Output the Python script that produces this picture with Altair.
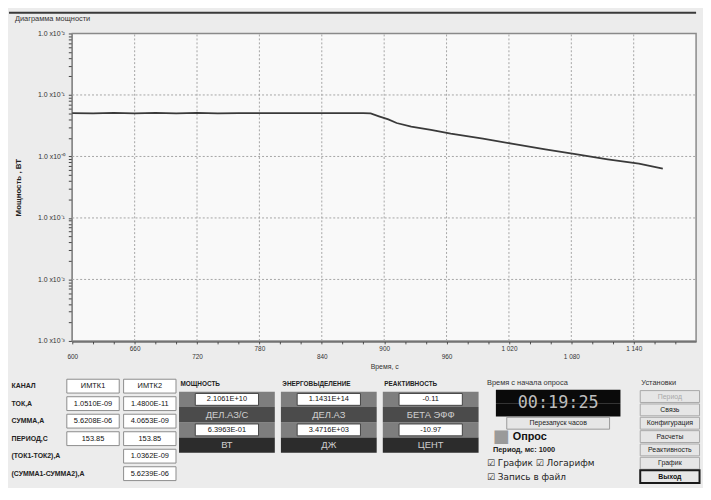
import altair as alt
import pandas as pd

# ---------------- data ----------------
time_s = [600, 620, 640, 660, 680, 700, 720, 740, 760, 800, 840, 880, 887, 895,
          904, 912, 926, 945, 964, 995, 1024, 1055, 1084, 1115, 1145, 1168]
power_w = [5.05, 5.0, 5.1, 5.0, 5.1, 5.0, 5.1, 5.0, 5.05, 5.05, 5.05, 5.05, 5.0, 4.5,
           4.0, 3.5, 3.05, 2.7, 2.35, 1.95, 1.6, 1.3, 1.09, 0.9, 0.765, 0.635]

x_domain = [600, 1200]
y_domain = [0.001, 100]
x_grid = [600, 660, 720, 780, 840, 900, 960, 1020, 1080, 1140, 1200]
x_minor_ticks = list(range(600, 1200, 20))
x_lower_labels = [600, 720, 840, 960, 1080]
y_decades = [0.001, 0.01, 0.1, 1, 10, 100]
y_exponents = [-3, -2, -1, 0, 1, 2]
y_labels = ['1.0 x10⁻³', '1.0 x10⁻²', '1.0 x10⁻¹', '1.0 x10⁺⁰', '1.0 x10⁺¹', '1.0 x10⁺²']
y_minor_mult = [2, 3, 4, 5, 6, 7, 8, 9]

chart_title = 'Диаграмма мощности'

chan_rows = ['КАНАЛ', 'ТОК,А', 'СУММА,А', 'ПЕРИОД,С', '(ТОК1-ТОК2),А', '(СУММА1-СУММА2),А']
chan_imtk1 = ['ИМТК1', '1.0510E-09', '5.6208E-06', '153.85', '', '']
chan_imtk2 = ['ИМТК2', '1.4800E-11', '4.0653E-09', '153.85', '1.0362E-09', '5.6239E-06']

read_groups = ['МОЩНОСТЬ', 'ЭНЕРГОВЫДЕЛЕНИЕ', 'РЕАКТИВНОСТЬ']
read_top_values = ['2.1061E+10', '1.1431E+14', '-0.11']
read_top_units = ['ДЕЛ.АЗ/С', 'ДЕЛ.АЗ', 'БЕТА ЭФФ']
read_bottom_values = ['6.3963E-01', '3.4716E+03', '-10.97']
read_bottom_units = ['ВТ', 'ДЖ', 'ЦЕНТ']

clock_title = 'Время с начала опроса'
clock_text = '00:19:25'
restart_text = 'Перезапуск часов'
poll_text = 'Опрос'
period_text = 'Период, мс:  1000'
graph_text = '☑ График ☑ Логарифм'
file_text = '☑ Запись в файл'

settings_title = 'Установки'
settings_buttons = ['Период', 'Связь', 'Конфигурация', 'Расчеты', 'Реактивность', 'График', 'Выход']

FONT = 'Liberation Sans'
TOTAL_W = 695
LEFT = 64
PLOT_H = 311
PANEL_H = 108
BG = '#ececec'

one = alt.X('c:N', scale=alt.Scale(type='band', domain=['a'], paddingInner=0, paddingOuter=0), axis=None)

# ---------------- header: window line + group title ----------------
hdr_rows = ['line', 'title']
hdr_df = pd.DataFrame({'c': ['a', 'a'], 'row': hdr_rows, 'text': ['', chart_title]})
hdr_y = alt.Y('row:N', scale=alt.Scale(type='band', domain=hdr_rows, paddingInner=0, paddingOuter=0),
              axis=None)
header = alt.layer(
    alt.Chart(hdr_df).transform_filter("datum.row == 'line'").mark_rect(fill='#3a3a3a').encode(
        x=one, y=hdr_y),
    alt.Chart(hdr_df).transform_filter("datum.row == 'title'").mark_text(
        align='left', baseline='top', dx=-(TOTAL_W / 2) + 6, fontSize=7.5, color='#333',
        font=FONT).encode(x=one, y=hdr_y, text='text:N'),
).properties(width=TOTAL_W, height=4)

# ---------------- main chart ----------------
df = pd.DataFrame({'t': time_s, 'p': power_w})
frame_df = pd.DataFrame({'x0': [x_domain[0]], 'x1': [x_domain[1]], 'y0': [y_domain[0]], 'y1': [y_domain[1]]})
hgrid_df = pd.DataFrame({'y': y_decades[1:-1], 'x0': x_domain[0], 'x1': x_domain[1]})
vgrid_df = pd.DataFrame({'x': x_grid[1:-1], 'y0': y_domain[0], 'y1': y_domain[1]})

y_values = y_decades + [m * d for d in y_decades[:-1] for m in y_minor_mult]
lab_expr = "''"
for e, lab in reversed(list(zip(y_exponents, y_labels))):
    lab_expr = f"abs(log(datum.value)/LN10 - ({e})) < 0.001 ? '{lab}' : " + lab_expr
fmt = "replace(format(datum.value, ','), ',', ' ')"

x_axis_upper = alt.Axis(
    orient='bottom', values=x_minor_ticks, title=None,
    labelExpr=f"datum.value % 120 == 60 ? {fmt} : ''",
    labelFontSize=6.5, labelColor='#333', labelFont=FONT, labelPadding=2,
    labelAngle=0, labelOverlap=False, labelFlush=False,
    domainColor='#333', domainWidth=2, tickColor='#555', tickSize=3, grid=False,
)
x_axis_lower = alt.Axis(
    orient='bottom', values=x_lower_labels, labelExpr=fmt, title='Время, с', offset=8,
    labelFontSize=6.5, labelColor='#333', labelFont=FONT, labelPadding=5,
    labelAngle=0, labelOverlap=False, labelFlush=False,
    titleFontSize=7, titleFontWeight='normal', titleColor='#333', titleFont=FONT, titlePadding=2,
    titleX=LEFT + (TOTAL_W - LEFT) / 2,
    domain=False, ticks=False, grid=False,
)
y_axis = alt.Axis(
    values=y_values, labelExpr=lab_expr, title='Мощность , ВТ', offset=-LEFT,
    labelFontSize=7, labelColor='#333', labelFont=FONT, labelPadding=4,
    titleFontSize=8, titleFontWeight='bold', titleColor='#222', titleFont=FONT, titlePadding=4,
    minExtent=46, maxExtent=46,
    domainColor='#111', domainWidth=2, tickColor='#444', tickSize=4, grid=False,
)
xs = alt.Scale(domain=x_domain, range=[LEFT, TOTAL_W], nice=False, zero=False)
ys = alt.Scale(type='log', domain=y_domain, nice=False)

plot_bg = alt.Chart(frame_df).mark_rect(fill='#f9f9f9', stroke='#8a8a8a', strokeWidth=1.5).encode(
    x=alt.X('x0:Q', scale=xs, axis=None), x2='x1:Q',
    y=alt.Y('y0:Q', scale=ys, axis=y_axis), y2='y1:Q')
hgrid = alt.Chart(hgrid_df).mark_rule(color='#a5a5a5', strokeDash=[2, 2], strokeWidth=1).encode(
    x=alt.X('x0:Q', scale=xs, axis=None), x2='x1:Q',
    y=alt.Y('y:Q', scale=ys, axis=y_axis))
vgrid = alt.Chart(vgrid_df).mark_rule(color='#a5a5a5', strokeDash=[2, 2], strokeWidth=1).encode(
    x=alt.X('x:Q', scale=xs, axis=None),
    y=alt.Y('y0:Q', scale=ys, axis=y_axis), y2='y1:Q')
power_line = alt.Chart(df).mark_line(color='#3a3a3a', strokeWidth=1.8).encode(
    x=alt.X('t:Q', scale=xs, axis=x_axis_upper),
    y=alt.Y('p:Q', scale=ys, axis=y_axis),
)
lower_axis_layer = alt.Chart(df).mark_line(opacity=0).encode(
    x=alt.X('t:Q', scale=xs, axis=x_axis_lower),
    y=alt.Y('p:Q', scale=ys, axis=y_axis),
)
main = alt.layer(plot_bg, hgrid, vgrid, power_line, lower_axis_layer).resolve_axis(
    x='independent').properties(width=TOTAL_W, height=PLOT_H)

# ---------------- panel A: channel table ----------------
recA = []
for i, lab in enumerate(chan_rows):
    recA.append({'row': lab, 'col': 'k', 'text': lab, 'kind': 'label'})
    if chan_imtk1[i]:
        recA.append({'row': lab, 'col': 'c1', 'text': chan_imtk1[i], 'kind': 'value'})
    if chan_imtk2[i]:
        recA.append({'row': lab, 'col': 'c2', 'text': chan_imtk2[i], 'kind': 'value'})
dfA = pd.DataFrame(recA)
xA = alt.X('col:N', scale=alt.Scale(type='band', domain=['k', 'c1', 'c2'], paddingInner=0.04,
                                     paddingOuter=0.0), axis=None)
yA = alt.Y('row:N', scale=alt.Scale(type='band', domain=chan_rows, paddingInner=0,
                                     paddingOuter=0.05), axis=None)
baseA = alt.Chart(dfA)
panelA = alt.layer(
    baseA.transform_filter("datum.kind == 'value'").mark_rect(
        width=53, height=14, fill='white', stroke='#8c8c8c', strokeWidth=1).encode(x=xA, y=yA),
    baseA.transform_filter("datum.kind == 'value'").mark_text(
        fontSize=7.5, color='#111', font=FONT).encode(x=xA, y=yA, text='text:N'),
    baseA.transform_filter("datum.kind == 'label'").mark_text(
        align='left', dx=-25, fontSize=7, fontWeight='bold', color='#222', font=FONT).encode(
        x=xA, y=yA, text='text:N'),
).properties(width=170, height=PANEL_H)

# ---------------- panel B: readouts ----------------
rowsB = ['h', 'v0', 'u0', 'v1', 'u1', 'e1', 'e2']
recB = []
for i, g in enumerate(read_groups):
    recB.append({'grp': g, 'row': 'h', 'text': g, 'kind': 'h'})
    recB.append({'grp': g, 'row': 'v0', 'text': read_top_values[i], 'kind': 'v'})
    recB.append({'grp': g, 'row': 'u0', 'text': read_top_units[i], 'kind': 'u0'})
    recB.append({'grp': g, 'row': 'v1', 'text': read_bottom_values[i], 'kind': 'v'})
    recB.append({'grp': g, 'row': 'u1', 'text': read_bottom_units[i], 'kind': 'u1'})
dfB = pd.DataFrame(recB)
xB = alt.X('grp:N', scale=alt.Scale(type='band', domain=read_groups, paddingInner=0.06,
                                     paddingOuter=0.0), axis=None)
yB = alt.Y('row:N', scale=alt.Scale(type='band', domain=rowsB, paddingInner=0, paddingOuter=0),
           axis=None)
baseB = alt.Chart(dfB)
panelB = alt.layer(
    baseB.transform_filter("datum.kind == 'v'").mark_rect(fill='#7e7e7e').encode(x=xB, y=yB),
    baseB.transform_filter("datum.kind == 'u0'").mark_rect(fill='#4b4b4b').encode(x=xB, y=yB),
    baseB.transform_filter("datum.kind == 'u1'").mark_rect(fill='#2c2c2c').encode(x=xB, y=yB),
    baseB.transform_filter("datum.kind == 'v'").mark_rect(
        width=64, height=12, fill='white', stroke='#444').encode(x=xB, y=yB),
    baseB.transform_filter("datum.kind == 'v'").mark_text(
        fontSize=7.5, color='#111', font=FONT).encode(x=xB, y=yB, text='text:N'),
    baseB.transform_filter("datum.kind == 'u0' || datum.kind == 'u1'").mark_text(
        fontSize=9.5, color='#cfcfcf', font=FONT).encode(x=xB, y=yB, text='text:N'),
    baseB.transform_filter("datum.kind == 'h'").mark_text(
        align='left', dx=-47, fontSize=6.5, fontWeight='bold', color='#222', font=FONT).encode(
        x=xB, y=yB, text='text:N'),
).properties(width=303, height=PANEL_H)

# ---------------- panel C: clock / polling ----------------
rowsC = ['title', 'clock', 'clock2', 'button', 'opros', 'period', 'graph', 'file']
dfC = pd.DataFrame([
    {'c': 'a', 'row': 'title', 'text': clock_title, 'kind': 'title'},
    {'c': 'a', 'row': 'clock', 'text': clock_text, 'kind': 'clock'},
    {'c': 'a', 'row': 'clock2', 'text': '', 'kind': 'clockbg'},
    {'c': 'a', 'row': 'button', 'text': restart_text, 'kind': 'button'},
    {'c': 'a', 'row': 'opros', 'text': poll_text, 'kind': 'opros'},
    {'c': 'a', 'row': 'period', 'text': period_text, 'kind': 'period'},
    {'c': 'a', 'row': 'graph', 'text': graph_text, 'kind': 'check'},
    {'c': 'a', 'row': 'file', 'text': file_text, 'kind': 'check'},
])
yC = alt.Y('row:N', scale=alt.Scale(type='band', domain=rowsC, paddingInner=0, paddingOuter=0), axis=None)
baseC = alt.Chart(dfC)
panelC = alt.layer(
    baseC.transform_filter("datum.kind == 'clock' || datum.kind == 'clockbg'").mark_rect(
        width=126, fill='#0a0a0a').encode(x=one, y=yC),
    baseC.transform_filter("datum.kind == 'button'").mark_rect(
        width=104, height=12, fill='#e6e6e6', stroke='#9a9a9a').encode(x=one, y=yC),
    baseC.transform_filter("datum.kind == 'clock'").mark_text(
        dy=7, fontSize=17, color='#bdbdbd', font='DejaVu Sans Mono').encode(x=one, y=yC, text='text:N'),
    baseC.transform_filter("datum.kind == 'button'").mark_text(
        fontSize=7, color='#222', font=FONT).encode(x=one, y=yC, text='text:N'),
    baseC.transform_filter("datum.kind == 'title'").mark_text(
        align='left', dx=-72, fontSize=7.5, color='#333', font=FONT).encode(x=one, y=yC, text='text:N'),
    baseC.transform_filter("datum.kind == 'opros'").mark_text(
        text='■', align='left', dx=-66, fontSize=18, color='#9a9a9a', font='DejaVu Sans').encode(x=one, y=yC),
    baseC.transform_filter("datum.kind == 'opros'").mark_text(
        align='left', dx=-46, fontSize=11, fontWeight='bold', color='#111', font=FONT).encode(
        x=one, y=yC, text='text:N'),
    baseC.transform_filter("datum.kind == 'period'").mark_text(
        align='left', dx=-66, fontSize=7.5, fontWeight='bold', color='#222', font=FONT).encode(
        x=one, y=yC, text='text:N'),
    baseC.transform_filter("datum.kind == 'check'").mark_text(
        align='left', dx=-72, fontSize=9, color='#222', font='DejaVu Sans').encode(
        x=one, y=yC, text='text:N'),
).properties(width=157, height=PANEL_H)

# ---------------- panel D: settings buttons ----------------
rowsD = [settings_title] + settings_buttons
recD = [{'c': 'a', 'row': settings_title, 'text': settings_title, 'kind': 'title'}]
for b in settings_buttons:
    kind = 'disabled' if b == 'Период' else ('exit' if b == 'Выход' else 'button')
    recD.append({'c': 'a', 'row': b, 'text': b, 'kind': kind})
dfD = pd.DataFrame(recD)
yD = alt.Y('row:N', scale=alt.Scale(type='band', domain=rowsD, paddingInner=0, paddingOuter=0), axis=None)
baseD = alt.Chart(dfD)
panelD = alt.layer(
    baseD.transform_filter("datum.kind == 'button' || datum.kind == 'disabled'").mark_rect(
        width=60, height=12, fill='#e6e6e6', stroke='#a8a8a8').encode(x=one, y=yD),
    baseD.transform_filter("datum.kind == 'exit'").mark_rect(
        width=60, height=13, fill='#e6e6e6', stroke='#1a1a1a', strokeWidth=2).encode(x=one, y=yD),
    baseD.transform_filter("datum.kind == 'button'").mark_text(
        fontSize=7, color='#222', font=FONT).encode(x=one, y=yD, text='text:N'),
    baseD.transform_filter("datum.kind == 'disabled'").mark_text(
        fontSize=7, color='#a8a8a8', font=FONT).encode(x=one, y=yD, text='text:N'),
    baseD.transform_filter("datum.kind == 'exit'").mark_text(
        fontSize=7, fontWeight='bold', color='#111', font=FONT).encode(x=one, y=yD, text='text:N'),
    baseD.transform_filter("datum.kind == 'title'").mark_text(
        align='left', dx=-29, fontSize=7.5, color='#333', font=FONT).encode(x=one, y=yD, text='text:N'),
).properties(width=65, height=PANEL_H)

panel = alt.hconcat(panelA, panelB, panelC, panelD, spacing=0)

chart = alt.vconcat(header, main, panel, spacing=6).properties(
    padding={'left': 0, 'top': 0, 'right': 0, 'bottom': 0},
    background=BG,
).configure_view(stroke='transparent')

chart.save('out.html', embed_options={'renderer': 'svg', 'actions': False})
